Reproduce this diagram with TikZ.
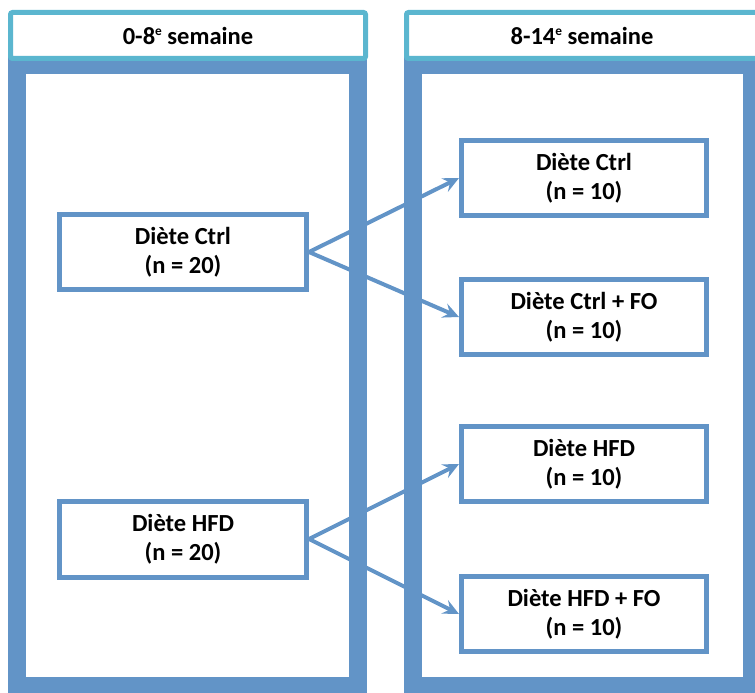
\documentclass[tikz,border=0pt]{standalone}
\usepackage{fontspec}
\setmainfont{Carlito}
\usepackage{tikz}
\usetikzlibrary{calc}
\usetikzlibrary{arrows.meta}
\usetikzlibrary{positioning}
\newdimen\px
\px=0.75pt
\newcommand{\supe}{\raisebox{0.75ex}{\fontsize{10}{10}\selectfont e}}
\definecolor{frameblue}{RGB}{98,148,199}
\definecolor{headcyan}{RGB}{91,182,207}
\tikzset{colframe/.style={draw=frameblue,line width=18\px,minimum height=621\px,inner sep=0pt}}
\tikzset{header/.style={draw=headcyan,fill=white,line width=5\px,rounded corners=2\px,minimum height=46\px,inner sep=0pt,font=\bfseries\fontsize{18.4}{22}\selectfont}}
\tikzset{
group/.style={draw=frameblue,fill=white,line width=5\px,minimum width=245\px,minimum height=75\px,
            inner sep=0pt,align=center,font=\bfseries\fontsize{18.4}{21.75}\selectfont},
split/.style={draw=frameblue,line width=4\px,-{Stealth[length=12pt,width=11.25pt,inset=4.5pt]}}
}

\begin{document}
\begin{tikzpicture}[x=0.75pt,y=-0.75pt,node distance=60\px]
\useasboundingbox (0,0) rectangle (755,692);

% the two periods
\node[colframe,minimum width=341\px] (left) at (187.5,375.5) {};
\node[colframe,minimum width=339\px] (right) at (582.5,375.5) {};
\node[header,minimum width=355\px] (lhead) at (188,35.5) {0-8\supe{} semaine};
\node[header,minimum width=351\px] (rhead) at (582,35.5) {8-14\supe{} semaine};

\node[group,minimum width=247\px] (ctrl) at (183,252) {Diète Ctrl\\(n = 20)};
\node[group,minimum width=247\px,minimum height=76\px] (hfd) at (183,539) {Diète HFD\\(n = 20)};

\node[group] (ctrl1) at (584,178) {Diète Ctrl\\(n = 10)};
\node[group,below=59\px of ctrl1] (ctrlfo) {Diète Ctrl + FO\\(n = 10)};
\node[group,below=67\px of ctrlfo] (hfd1) {Diète HFD\\(n = 10)};
\node[group,below=70\px of hfd1] (hfdfo) {Diète HFD + FO\\(n = 10)};

\draw[split] (ctrl.east) -- (ctrl1.west);
\draw[split] (ctrl.east) -- (ctrlfo.west);
\draw[split] (hfd.east) -- (hfd1.west);
\draw[split] (hfd.east) -- (hfdfo.west);

\end{tikzpicture}
\end{document}
